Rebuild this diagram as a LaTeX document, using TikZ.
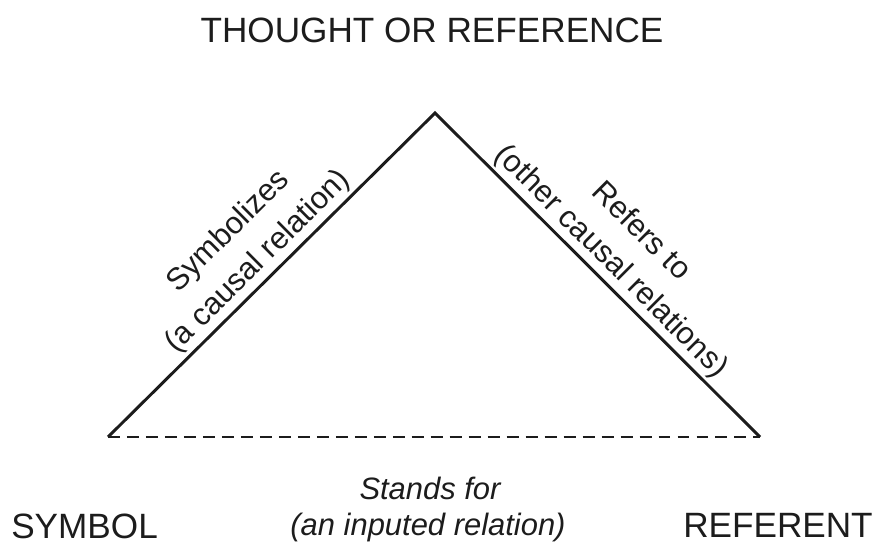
\documentclass[tikz,border=0pt]{standalone}
\usepackage{fontspec}
\setmainfont{Liberation Sans}
\usetikzlibrary{positioning}
\definecolor{ink}{HTML}{1C1C1C}

\begin{document}
\begin{tikzpicture}[x=0.025cm, y=0.025cm, every node/.style={align=center, text=ink},
    corner/.style={font=\fontsize{25}{30}\selectfont, inner sep=0pt},
    relation/.style={font=\fontsize{22}{30}\selectfont},
    imputed/.style={font=\itshape\fontsize{22}{30}\selectfont}]
    \useasboundingbox (0,0) rectangle (878,545);
    \coordinate (apex) at (435,432);
    \coordinate (symb) at (108,108);
    \coordinate (refr) at (760,108);
    \node[corner, anchor=base] (thought) at (432,502) {THOUGHT OR REFERENCE};
    \node[corner, anchor=base west] (symbol) at (11,7) {SYMBOL};
    \node[corner, anchor=base east] (referent) at (873,8) {REFERENT};
    \draw[ink, line width=2.1pt] (symb) -- node[relation, midway, sloped, above, inner sep=2pt] (symbolizes) {Symbolizes\\(a causal relation)} (apex)
      -- node[relation, midway, sloped, above, inner sep=2pt] (refersto) {Refers to\\(other causal relations)} (refr);
    \draw[ink, line width=2.1pt, dash pattern=on 8.5pt off 5pt] (symb) -- (refr);
    \node[imputed, anchor=base, inner sep=0pt] (stands) at (430,46) {Stands for};
    \node[imputed, anchor=base, inner sep=0pt] (inputed) at (428,10) {(an inputed relation)};
  \end{tikzpicture}
\end{document}
